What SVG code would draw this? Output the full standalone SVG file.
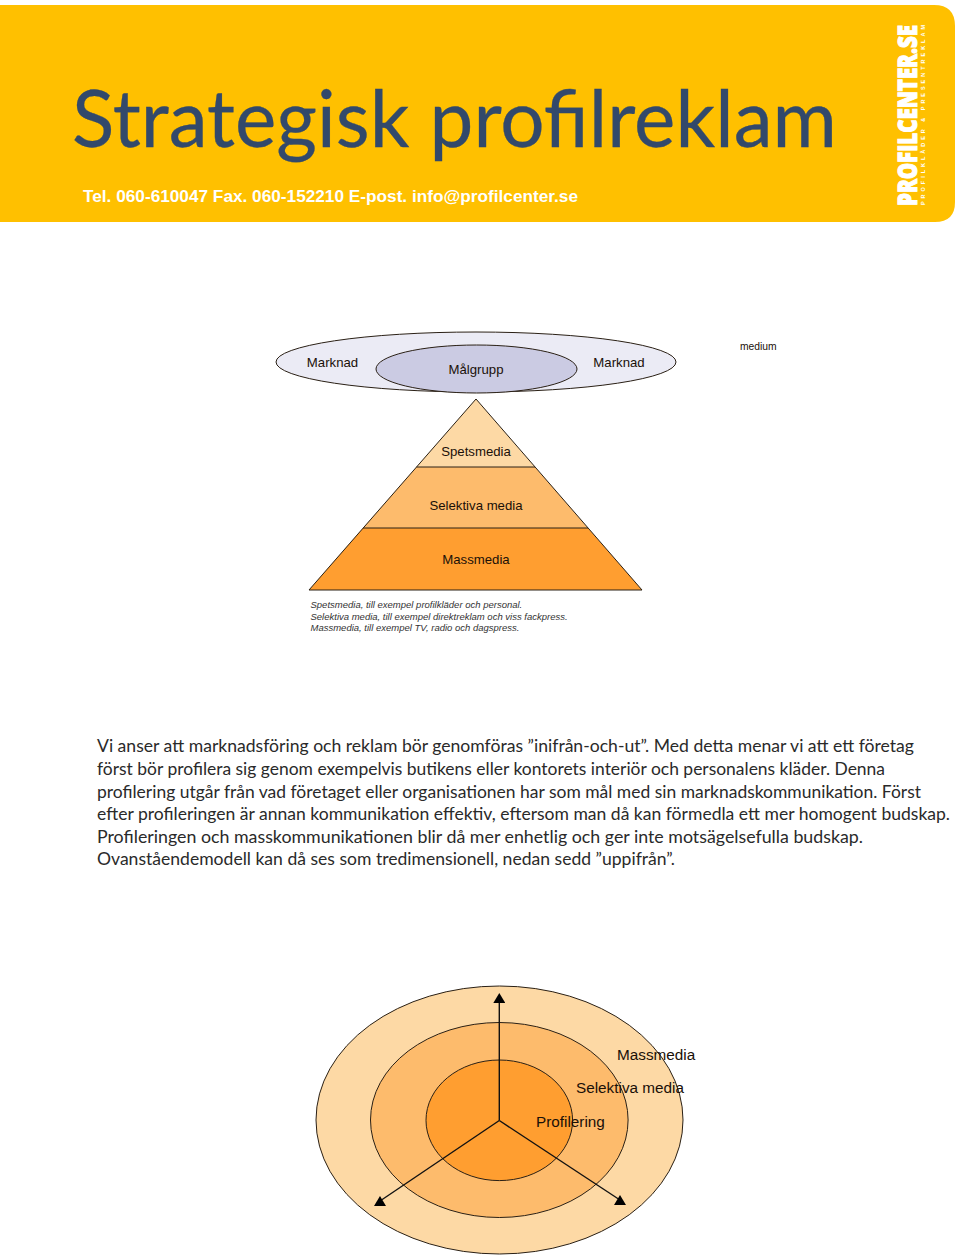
<svg xmlns="http://www.w3.org/2000/svg" width="960" height="1256" viewBox="0 0 960 1256">
<style>
.a{font-family:"Liberation Sans",Arial,sans-serif;fill:#1a1008}
.m{text-anchor:middle;font-size:13.2px}
.n{font-family:Lato,"Open Sans",sans-serif;font-size:17.5px;fill:#2a2a2a}
.s{stroke:#2a2015;stroke-width:1}
.i{font-size:9.5px;font-style:italic;fill:#333}
.c{stroke:#111;stroke-width:1.4;fill:none;marker-end:url(#h)}
</style>
<defs><marker id="h" markerUnits="userSpaceOnUse" markerWidth="12" markerHeight="10" refX="6" refY="5" orient="0"><path d="M0,10 L6,0 L12,10 Z" fill="#000"/></marker></defs>
<rect width="960" height="1256" fill="#fff"/>
<g id="header">
<path d="M0,5 H934 Q955,5 955,26 V202 Q955,222 935,222 H0 Z" fill="#ffc000"/>
<text x="72" y="147" font-family="Lato,'Open Sans',sans-serif" font-size="80" fill="#32496b" stroke="#32496b" stroke-width="0.3" textLength="765" lengthAdjust="spacingAndGlyphs">Strategisk profilreklam</text>
<text x="83" y="202" font-family="'Liberation Sans',Arial,sans-serif" font-size="17" font-weight="bold" fill="#fff" textLength="495" lengthAdjust="spacingAndGlyphs">Tel. 060-610047 Fax. 060-152210 E-post. info@profilcenter.se</text>
<text transform="translate(917,206) rotate(-90) scale(0.77,1)" font-family="'Open Sans','Noto Sans',sans-serif" font-size="27" font-weight="800" fill="#fff" stroke="#fff" stroke-width="1.1" textLength="235" lengthAdjust="spacingAndGlyphs">PROFILCENTER.SE</text>
<text transform="translate(925,205) rotate(-90)" font-family="'Liberation Sans',Arial,sans-serif" font-size="5.500" font-weight="bold" fill="#fff" textLength="180">PROFILKLÄDER &amp; PRESENTREKLAM</text>
</g>
<g id="marknad"><ellipse cx="476" cy="362" rx="200" ry="30" fill="#ebebf5" class="s"/>
<text x="332.500" y="367" class="a m">Marknad</text><text x="619" y="367" class="a m">Marknad</text></g>
<g id="malgrupp"><ellipse cx="476.500" cy="369" rx="100.500" ry="24" fill="#cbcbe3" class="s"/><text x="476" y="374" class="a m">Målgrupp</text></g>
<g id="medium"><text x="740" y="350" class="a" font-size="10.300">medium</text></g>
<g id="spetsmedia"><path d="M476,399 L416.500,467 H535 Z" fill="#fdd9a5"/><text x="476" y="456" class="a m">Spetsmedia</text></g>
<g id="selektiva"><path d="M416.500,467 H535 L588,528 H363 Z" fill="#fdbb6c"/><text x="476" y="510" class="a m">Selektiva media</text></g>
<g id="massmedia"><path d="M363,528 H588 L642,590 H309 Z" fill="#ff9e30"/><text x="476" y="564" class="a m">Massmedia</text></g>
<path d="M476,399 L642,590 H309 Z M416.500,467 H535 M363,528 H588" fill="none" class="s"/>
<g id="pyramid-note" class="a i">
<text x="310.500" y="608">Spetsmedia, till exempel profilkläder och personal.</text>
<text x="310.500" y="620">Selektiva media, till exempel direktreklam och viss fackpress.</text>
<text x="310.500" y="631">Massmedia, till exempel TV, radio och dagspress.</text></g>
<g id="body" class="n">
<text x="97" y="752" textLength="817" lengthAdjust="spacingAndGlyphs">Vi anser att marknadsföring och reklam bör genomföras ”inifrån-och-ut”. Med detta menar vi att ett företag</text>
<text x="97" y="775" textLength="788" lengthAdjust="spacingAndGlyphs">först bör profilera sig genom exempelvis butikens eller kontorets interiör och personalens kläder. Denna</text>
<text x="97" y="798" textLength="824" lengthAdjust="spacingAndGlyphs">profilering utgår från vad företaget eller organisationen har som mål med sin marknadskommunikation. Först</text>
<text x="97" y="820" textLength="853" lengthAdjust="spacingAndGlyphs">efter profileringen är annan kommunikation effektiv, eftersom man då kan förmedla ett mer homogent budskap.</text>
<text x="97" y="843" textLength="766" lengthAdjust="spacingAndGlyphs">Profileringen och masskommunikationen blir då mer enhetlig och ger inte motsägelsefulla budskap.</text>
<text x="97" y="865" textLength="578" lengthAdjust="spacingAndGlyphs">Ovanståendemodell kan då ses som tredimensionell, nedan sedd ”uppifrån”.</text>
</g>
<g id="outer"><ellipse cx="499.500" cy="1120" rx="183.500" ry="134" fill="#fdd9a5" class="s"/></g>
<g id="middle"><ellipse cx="499.300" cy="1120" rx="128.800" ry="97.500" fill="#fdbb6c" class="s"/></g>
<g id="inner"><ellipse cx="499.300" cy="1120.300" rx="73.300" ry="60.300" fill="#ff9e30" class="s"/></g>
<g id="connectors">
<path class="c" d="M499.300,1120.500 V998"/><path class="c" d="M499.300,1120.500 L380,1201"/><path class="c" d="M499.300,1120.500 L620,1200"/>
</g>
<g id="labels" class="a" font-size="15.300">
<text x="617" y="1060">Massmedia</text><text x="576" y="1093">Selektiva media</text><text x="536" y="1127">Profilering</text></g>
</svg>
